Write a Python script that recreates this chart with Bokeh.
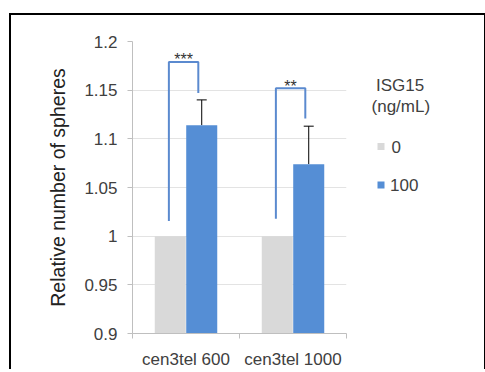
from bokeh.plotting import figure
from bokeh.layouts import row
from bokeh.models import Range1d, FixedTicker, Whisker, TeeHead, ColumnDataSource
from bokeh.core.properties import value
from bokeh.embed import file_html
from bokeh.resources import INLINE
import numpy as np

# ---- data ----
categories = ["cen3tel 600", "cen3tel 1000"]
control = [1.0, 1.0]            # ISG15 0 ng/mL
treated = [1.114, 1.074]        # ISG15 100 ng/mL
treated_err = [0.026, 0.039]    # upper error
bracket_top = [1.179, 1.152]
bracket_left_bottom = [1.0155, 1.018]
bracket_right_bottom = [1.147, 1.121]
sig_labels = ["***", "**"]
series_names = ["0", "100"]
legend_title = ["ISG15", "(ng/mL)"]
y_ticks = [0.9, 0.95, 1.0, 1.05, 1.1, 1.15, 1.2]
y_tick_labels = ["0.9", "0.95", "1", "1.05", "1.1", "1.15", "1.2"]

FONT = "Liberation Sans"
GRAY = "#D9D9D9"
BLUE = "#558ED5"
AXIS = "#BFBFBF"
TXT = "#404040"

# layout (page pixels)
OX, OY = 11, 15
H = 356
PW, QW = 340, 133
BT, BB = 26, 34

n = len(categories)
xc = np.arange(n) + 0.5
off = 0.147
bw = 0.29

p = figure(width=PW, height=H, output_backend="svg", toolbar_location=None,
           x_range=Range1d(0, n), y_range=Range1d(0.9, 1.2),
           min_border_left=121, min_border_right=5, min_border_top=BT, min_border_bottom=BB)
p.outline_line_color = None
p.background_fill_color = "white"
p.border_fill_color = "white"

src = ColumnDataSource(dict(
    xg=xc - off, xb=xc + off, control=control, treated=treated,
    upper=[t + e for t, e in zip(treated, treated_err)],
))

r0 = p.vbar(x="xg", top="control", bottom=0.9, width=bw, source=src,
            fill_color=GRAY, line_color=None)
r1 = p.vbar(x="xb", top="treated", bottom=0.9, width=bw, source=src,
            fill_color=BLUE, line_color=None)

wh = Whisker(base="xb", lower="treated", upper="upper", source=src,
             line_color="black", line_width=1,
             upper_head=TeeHead(size=10, line_color="black", line_width=1),
             lower_head=None)
p.add_layout(wh)

# significance brackets
lx = xc - 0.16
rx = xc + 0.115
xs = [[a, a, b, b] for a, b in zip(lx, rx)]
ys = [[lb, t, t, rb] for lb, t, rb in zip(bracket_left_bottom, bracket_top, bracket_right_bottom)]
p.multi_line(xs=xs, ys=ys, line_color="#5B8ACF", line_width=2)
p.text(x=(lx + rx) / 2, y=bracket_top, text=sig_labels, text_align="center",
       text_baseline="alphabetic", y_offset=-2, text_font=value(FONT),
       text_font_size="16px", text_color="#333333")

# axes
p.xaxis.ticker = FixedTicker(ticks=list(xc), minor_ticks=list(range(n + 1)))
p.xaxis.major_label_overrides = {float(x): c for x, c in zip(xc, categories)}
p.xaxis.major_tick_line_color = None
p.xaxis.major_tick_out = 0
p.xaxis.major_tick_in = 0
p.xaxis.minor_tick_out = 5
p.xaxis.minor_tick_in = 0
p.xaxis.minor_tick_line_color = AXIS
p.xaxis.axis_line_color = AXIS
p.xaxis.major_label_standoff = 11
p.xaxis.major_label_text_font = FONT
p.xaxis.major_label_text_font_size = "17px"
p.xaxis.major_label_text_color = TXT

p.yaxis.ticker = FixedTicker(ticks=y_ticks)
p.yaxis.major_label_overrides = {t: l for t, l in zip(y_ticks, y_tick_labels)}
p.yaxis.minor_tick_line_color = None
p.yaxis.major_tick_out = 5
p.yaxis.major_tick_in = 0
p.yaxis.major_tick_line_color = AXIS
p.yaxis.axis_line_color = AXIS
p.yaxis.major_label_standoff = 10
p.yaxis.major_label_text_font = FONT
p.yaxis.major_label_text_font_size = "17px"
p.yaxis.major_label_text_color = TXT
p.yaxis.axis_label = "Relative number of spheres"
p.yaxis.axis_label_text_font = FONT
p.yaxis.axis_label_text_font_size = "19.5px"
p.yaxis.axis_label_text_font_style = "normal"
p.yaxis.axis_label_text_color = "#222222"
p.yaxis.axis_label_standoff = 12

p.xgrid.grid_line_color = None
p.ygrid.grid_line_color = "#E3E3E3"
p.ygrid.grid_line_width = 1

# ---- legend panel (separate figure; ranges expressed in page pixels) ----
frame_top = OY + BT
frame_bottom = OY + H - BB
q = figure(width=QW, height=H, output_backend="svg", toolbar_location=None,
           x_range=Range1d(OX + PW, OX + PW + QW), y_range=Range1d(frame_bottom, frame_top),
           x_axis_type=None, y_axis_type=None,
           min_border_left=0, min_border_right=0,
           min_border_top=BT, min_border_bottom=BB)
q.outline_line_color = None
q.xgrid.visible = False
q.ygrid.visible = False
q.border_fill_color = "white"
q.background_fill_color = "white"

q.text(x=[399.5, 400.3], y=[85.8, 106.5], text=legend_title, text_align="center",
       text_baseline="middle", text_font=value(FONT), text_font_size="17px",
       text_color=TXT)
q.scatter(x=[380.5, 380.5], y=[147.5, 186.5], marker="square", size=7,
          fill_color=[GRAY, BLUE], line_color=None)
q.text(x=[391, 389.5], y=[147.5, 186.5], text=series_names, text_align="left",
       text_baseline="middle", text_font=value(FONT), text_font_size="17px",
       text_color=TXT)

layout = row(p, q)
layout.margin = (OY, 0, 0, OX)
layout.styles = {"box-shadow": "-2px -2px 0 0 #000000, 2px -2px 0 0 #000000"}

open("out.html", "w").write(file_html(layout, INLINE))
